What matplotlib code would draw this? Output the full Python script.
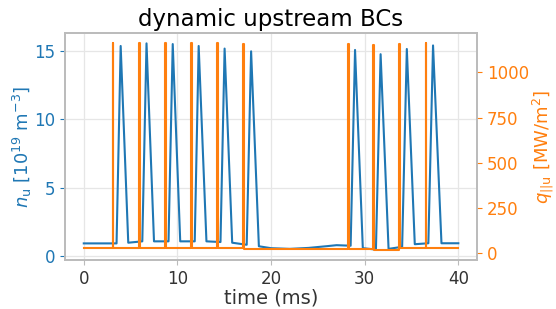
import numpy as np
import matplotlib
matplotlib.use("Agg")
import matplotlib.pyplot as plt

# upstream density n_u [1e19 m^-3]
t_n = [0, 3.5, 3.94, 4.75, 6.25, 6.7, 7.5, 9.05, 9.5, 10.3, 11.85, 12.27, 13.1,
       14.6, 15.04, 15.85, 17.4, 17.87, 18.7, 20, 22, 24, 26, 27, 28.5, 28.97,
       29.8, 31.2, 31.7, 32.55, 34.0, 34.5, 35.35, 36.8, 37.3, 38.2, 40]
n_u = [0.95, 0.95, 15.36, 1.0, 1.1, 15.55, 1.1, 1.1, 15.5, 1.1, 1.1, 15.36, 1.1,
       1.05, 15.17, 1.0, 0.85, 14.97, 0.74, 0.6, 0.55, 0.62, 0.75, 0.82, 0.78, 15.07,
       0.6, 0.5, 14.76, 0.55, 0.7, 15.14, 0.89, 0.96, 15.4, 0.96, 0.96]

# upstream heat flux q_||u [MW/m^2]: spikes on top of a baseline
spike_t = [3.09, 5.92, 8.69, 11.45, 14.22, 17.0, 28.2, 30.9, 33.7, 36.5]
spike_q = [1161, 1161, 1161, 1161, 1161, 1158, 1157, 1150, 1157, 1161]
base_q = [26, 26, 26, 26, 26, 26, 22, 22, 19, 26, 26]
spike_width = 0.08
t_end = 40

# build the step trace
t_q, q = [0], [base_q[0]]
for i, (ts, qs) in enumerate(zip(spike_t, spike_q)):
    t_q += [ts, ts, ts + spike_width, ts + spike_width]
    q += [base_q[i], qs, qs, base_q[i + 1]]
t_q.append(t_end)
q.append(base_q[-1])

c_n = "#1f77b4"
c_q = "#ff7f0e"
spine_col = "#bbbbbb"

fig = plt.figure(figsize=(5.56, 3.09), dpi=100)
ax = fig.add_axes([0.117, 0.159, 0.741, 0.734])
ax2 = ax.twinx()

ax.plot(t_n, n_u, color=c_n, lw=1.5)
ax2.plot(t_q, q, color=c_q, lw=1.5)

ax.set_xticks([0, 10, 20, 30, 40])
ax.set_yticks([0, 5, 10, 15])
ax2.set_yticks([0, 250, 500, 750, 1000])

ax.grid(True, color="#e6e6e6", lw=0.9)
ax.set_axisbelow(True)

for a in (ax, ax2):
    for s in a.spines.values():
        s.set_color(spine_col)
        s.set_linewidth(1.2)

ax.tick_params(axis="x", colors="#333333", labelsize=12, length=3.5, width=0.8)
ax.tick_params(axis="x", color=spine_col)
ax.tick_params(axis="y", colors=c_n, labelsize=12, length=3.5, width=0.8)
ax2.tick_params(axis="y", colors=c_q, labelsize=12, length=3.5, width=0.8)

ax.set_xlabel("time (ms)", fontsize=14, color="#333333", labelpad=1)
ax.set_ylabel(r"$n_\mathrm{u}$ [$10^{19}$ m$^{-3}$]", fontsize=13, color=c_n,
              labelpad=0)
ax2.set_ylabel(r"$q_{||\mathrm{u}}$ [MW/m$^2$]", fontsize=13, color=c_q,
               labelpad=1)
ax.set_title("dynamic upstream BCs", fontsize=16.5, pad=5)

fig.savefig("out.png", dpi=100)
